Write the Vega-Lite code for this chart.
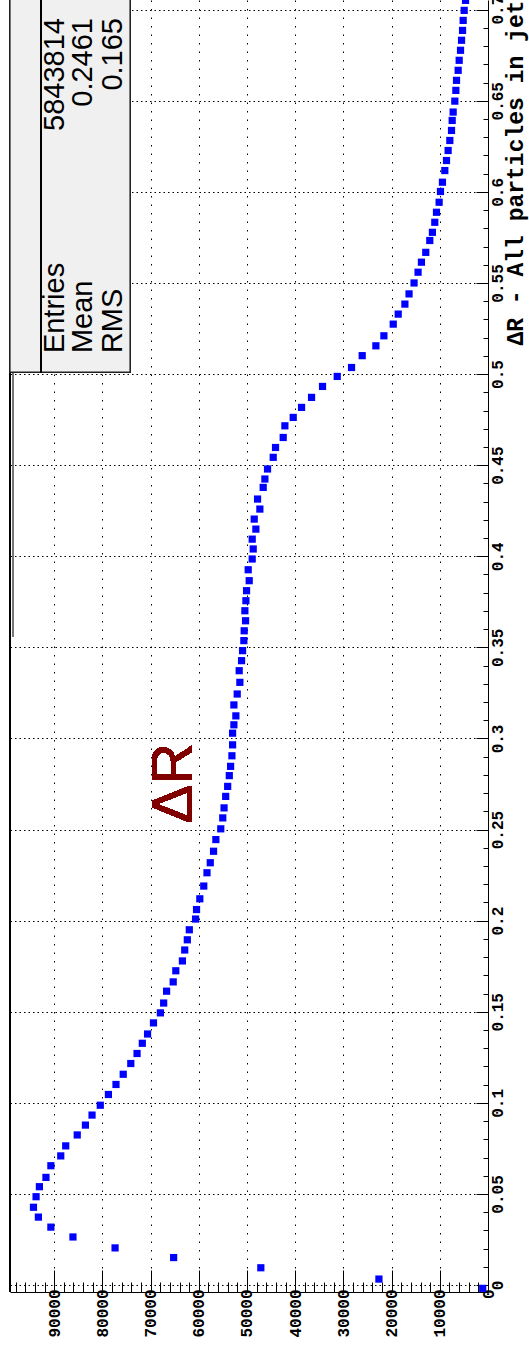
{
  "$schema": "https://vega.github.io/schema/vega-lite/v6.json",
  "width": 478,
  "height": 1292,
  "autosize": {"type": "none"},
  "padding": {"left": 10, "top": 0, "right": 41, "bottom": 80},
  "background": "white",
  "config": {
    "view": {"stroke": null},
    "axis": {
      "labelFont": "Liberation Mono",
      "labelFontWeight": "bold",
      "labelFontSize": 16,
      "labelColor": "black",
      "domainColor": "black",
      "tickColor": "black",
      "gridColor": "black",
      "gridWidth": 1
    }
  },
  "data": {
    "values": [
      {"dR": -0.0018, "n": 1100},
      {"dR": 0.0033, "n": 22630},
      {"dR": 0.0095, "n": 47130},
      {"dR": 0.0151, "n": 65220},
      {"dR": 0.0204, "n": 77370},
      {"dR": 0.0264, "n": 86110},
      {"dR": 0.0318, "n": 90690},
      {"dR": 0.0373, "n": 93280},
      {"dR": 0.0427, "n": 94300},
      {"dR": 0.0485, "n": 93760},
      {"dR": 0.054, "n": 93070},
      {"dR": 0.0591, "n": 91710},
      {"dR": 0.0655, "n": 90690},
      {"dR": 0.0709, "n": 88640},
      {"dR": 0.0764, "n": 87610},
      {"dR": 0.0824, "n": 85220},
      {"dR": 0.0878, "n": 83520},
      {"dR": 0.0933, "n": 82150},
      {"dR": 0.0987, "n": 80440},
      {"dR": 0.1046, "n": 78750},
      {"dR": 0.1101, "n": 77180},
      {"dR": 0.1157, "n": 75680},
      {"dR": 0.1216, "n": 74110},
      {"dR": 0.1271, "n": 72810},
      {"dR": 0.1327, "n": 71720},
      {"dR": 0.1378, "n": 70630},
      {"dR": 0.1439, "n": 69400},
      {"dR": 0.1494, "n": 67970},
      {"dR": 0.1548, "n": 67290},
      {"dR": 0.1613, "n": 66680},
      {"dR": 0.1664, "n": 65310},
      {"dR": 0.1725, "n": 64770},
      {"dR": 0.1779, "n": 63400},
      {"dR": 0.1839, "n": 62920},
      {"dR": 0.1895, "n": 62380},
      {"dR": 0.195, "n": 61970},
      {"dR": 0.2009, "n": 60670},
      {"dR": 0.2061, "n": 60470},
      {"dR": 0.212, "n": 59790},
      {"dR": 0.219, "n": 58970},
      {"dR": 0.2263, "n": 58300},
      {"dR": 0.2318, "n": 57620},
      {"dR": 0.2381, "n": 56940},
      {"dR": 0.2445, "n": 56460},
      {"dR": 0.2504, "n": 55440},
      {"dR": 0.2564, "n": 55030},
      {"dR": 0.2619, "n": 54760},
      {"dR": 0.2682, "n": 54420},
      {"dR": 0.2737, "n": 54010},
      {"dR": 0.2796, "n": 53670},
      {"dR": 0.2847, "n": 53400},
      {"dR": 0.2905, "n": 53130},
      {"dR": 0.2965, "n": 52990},
      {"dR": 0.3029, "n": 52990},
      {"dR": 0.3075, "n": 52720},
      {"dR": 0.3124, "n": 52310},
      {"dR": 0.3184, "n": 52720},
      {"dR": 0.3244, "n": 52030},
      {"dR": 0.3308, "n": 51480},
      {"dR": 0.3372, "n": 51620},
      {"dR": 0.3427, "n": 51130},
      {"dR": 0.3482, "n": 50920},
      {"dR": 0.3537, "n": 50650},
      {"dR": 0.3591, "n": 50580},
      {"dR": 0.3646, "n": 50300},
      {"dR": 0.3701, "n": 50440},
      {"dR": 0.3756, "n": 50230},
      {"dR": 0.3811, "n": 50090},
      {"dR": 0.3866, "n": 49540},
      {"dR": 0.3926, "n": 49750},
      {"dR": 0.3985, "n": 48920},
      {"dR": 0.404, "n": 48710},
      {"dR": 0.4094, "n": 48920},
      {"dR": 0.4149, "n": 48160},
      {"dR": 0.4204, "n": 48500},
      {"dR": 0.4259, "n": 47330},
      {"dR": 0.4314, "n": 47810},
      {"dR": 0.4378, "n": 46640},
      {"dR": 0.4424, "n": 46290},
      {"dR": 0.4479, "n": 45740},
      {"dR": 0.4543, "n": 44560},
      {"dR": 0.4597, "n": 44080},
      {"dR": 0.4652, "n": 42490},
      {"dR": 0.4716, "n": 42140},
      {"dR": 0.4762, "n": 40410},
      {"dR": 0.4817, "n": 38680},
      {"dR": 0.4872, "n": 36610},
      {"dR": 0.4932, "n": 34330},
      {"dR": 0.4987, "n": 31280},
      {"dR": 0.5036, "n": 28310},
      {"dR": 0.5101, "n": 26100},
      {"dR": 0.5155, "n": 23260},
      {"dR": 0.521, "n": 21600},
      {"dR": 0.5274, "n": 19660},
      {"dR": 0.5329, "n": 18630},
      {"dR": 0.5384, "n": 17240},
      {"dR": 0.544, "n": 16380},
      {"dR": 0.55, "n": 15340},
      {"dR": 0.5559, "n": 14510},
      {"dR": 0.5614, "n": 13810},
      {"dR": 0.5668, "n": 12910},
      {"dR": 0.5733, "n": 12080},
      {"dR": 0.5778, "n": 11530},
      {"dR": 0.5833, "n": 11040},
      {"dR": 0.5888, "n": 10690},
      {"dR": 0.5943, "n": 10140},
      {"dR": 0.6002, "n": 9860},
      {"dR": 0.6053, "n": 9450},
      {"dR": 0.6117, "n": 8960},
      {"dR": 0.6172, "n": 8610},
      {"dR": 0.6227, "n": 8270},
      {"dR": 0.6282, "n": 7920},
      {"dR": 0.6337, "n": 7570},
      {"dR": 0.6392, "n": 7430},
      {"dR": 0.6438, "n": 7230},
      {"dR": 0.6498, "n": 6880},
      {"dR": 0.6557, "n": 6670},
      {"dR": 0.6612, "n": 6530},
      {"dR": 0.6667, "n": 6190},
      {"dR": 0.6722, "n": 5980},
      {"dR": 0.6777, "n": 5700},
      {"dR": 0.6832, "n": 5490},
      {"dR": 0.6886, "n": 5280},
      {"dR": 0.6941, "n": 5150},
      {"dR": 0.6996, "n": 4940},
      {"dR": 0.7051, "n": 4660}
    ]
  },
  "layer": [
    {
      "mark": {"type": "rule", "color": "#777777", "strokeWidth": 1},
      "encoding": {
        "x": {"datum": 98600, "type": "quantitative"},
        "y": {"datum": 0.3557, "type": "quantitative"},
        "y2": {"datum": 0.72}
      }
    },
    {
      "mark": {"type": "point", "shape": "square", "filled": true, "color": "#0000ff", "opacity": 1, "size": 52},
      "encoding": {
        "x": {
          "field": "n",
          "type": "quantitative",
          "scale": {"domain": [0, 99170], "reverse": true, "nice": false, "zero": false},
          "axis": {
            "orient": "bottom",
            "title": null,
            "values": [0, 2000, 4000, 6000, 8000, 10000, 12000, 14000, 16000, 18000, 20000, 22000, 24000, 26000, 28000, 30000, 32000, 34000, 36000, 38000, 40000, 42000, 44000, 46000, 48000, 50000, 52000, 54000, 56000, 58000, 60000, 62000, 64000, 66000, 68000, 70000, 72000, 74000, 76000, 78000, 80000, 82000, 84000, 86000, 88000, 90000, 92000, 94000, 96000, 98000],
            "tickCount": 1000,
            "labelExpr": "datum.value % 10000 === 0 ? toString(datum.value) : ''",
            "labelAngle": 270,
            "labelPadding": 19,
            "labelOverlap": false,
            "labelFlush": false,
            "tickSize": {"condition": {"test": "datum.value % 10000 === 0", "value": -22}, "value": -10},
            "tickWidth": 1,
            "grid": true,
            "gridDash": [1.5, 7],
            "gridOpacity": {"condition": {"test": "datum.value % 10000 === 0 && datum.value > 0", "value": 1}, "value": 0}
          }
        },
        "y": {
          "field": "dR",
          "type": "quantitative",
          "scale": {"domain": [-0.0038, 0.7053], "nice": false, "zero": false},
          "axis": {
            "orient": "right",
            "title": "ΔR - All particles in jet",
            "titleFont": "Liberation Mono",
            "titleFontWeight": "bold",
            "titleFontSize": 23,
            "titleColor": "black",
            "titleAngle": 270,
            "titleAnchor": "end",
            "titlePadding": 15,
            "values": [0, 0.01, 0.02, 0.03, 0.04, 0.05, 0.06, 0.07, 0.08, 0.09, 0.1, 0.11, 0.12, 0.13, 0.14, 0.15, 0.16, 0.17, 0.18, 0.19, 0.2, 0.21, 0.22, 0.23, 0.24, 0.25, 0.26, 0.27, 0.28, 0.29, 0.3, 0.31, 0.32, 0.33, 0.34, 0.35, 0.36, 0.37, 0.38, 0.39, 0.4, 0.41, 0.42, 0.43, 0.44, 0.45, 0.46, 0.47, 0.48, 0.49, 0.5, 0.51, 0.52, 0.53, 0.54, 0.55, 0.56, 0.57, 0.58, 0.59, 0.6, 0.61, 0.62, 0.63, 0.64, 0.65, 0.66, 0.67, 0.68, 0.69, 0.7],
            "tickCount": 1000,
            "labelExpr": "abs(datum.value * 20 - round(datum.value * 20)) < 0.000001 ? toString(round(datum.value * 100) / 100) : ''",
            "labelAngle": 270,
            "labelPadding": 13,
            "labelOverlap": false,
            "labelFlush": false,
            "tickSize": {"condition": {"test": "abs(datum.value * 20 - round(datum.value * 20)) < 0.000001", "value": -12}, "value": -5},
            "tickWidth": 1,
            "grid": true,
            "gridDash": [1.5, 3],
            "gridOpacity": {"condition": {"test": "abs(datum.value * 20 - round(datum.value * 20)) < 0.000001", "value": 1}, "value": 0}
          }
        }
      }
    },
    {
      "mark": {"type": "rule", "color": "black", "strokeWidth": 1.5},
      "encoding": {"x": {"datum": 99170, "type": "quantitative"}}
    },
    {
      "mark": {"type": "rect", "fill": "#f0f0f0", "stroke": "#222222", "strokeWidth": 1.2},
      "encoding": {
        "x": {"datum": 99170, "type": "quantitative"},
        "x2": {"datum": 74270},
        "y": {"datum": 0.5011, "type": "quantitative"},
        "y2": {"datum": 0.72}
      }
    },
    {
      "mark": {"type": "rule", "color": "black", "strokeWidth": 1},
      "encoding": {
        "x": {"datum": 92740, "type": "quantitative"},
        "y": {"datum": 0.5011, "type": "quantitative"},
        "y2": {"datum": 0.72}
      }
    },
    {
      "data": {"values": [
        {"key": "Entries", "val": "5843814", "n": 89830},
        {"key": "Mean", "val": "0.2461", "n": 84020},
        {"key": "RMS", "val": "0.165", "n": 77800}
      ]},
      "layer": [
        {
          "mark": {"type": "text", "font": "Liberation Sans", "fontSize": 29, "angle": 270, "align": "left", "baseline": "middle", "color": "black"},
          "encoding": {
            "x": {"field": "n", "type": "quantitative"},
            "y": {"datum": 0.5115, "type": "quantitative"},
            "text": {"field": "key"}
          }
        },
        {
          "mark": {"type": "text", "font": "Liberation Sans", "fontSize": 29, "angle": 270, "align": "right", "baseline": "middle", "color": "black"},
          "encoding": {
            "x": {"field": "n", "type": "quantitative"},
            "y": {"datum": 0.6954, "type": "quantitative"},
            "text": {"field": "val"}
          }
        }
      ]
    },
    {
      "mark": {"type": "text", "font": "Liberation Sans", "fontSize": 58, "angle": 270, "align": "center", "baseline": "middle", "color": "#800000"},
      "encoding": {
        "x": {"datum": 64940, "type": "quantitative"},
        "y": {"datum": 0.2755, "type": "quantitative"},
        "text": {"value": "ΔR"}
      }
    }
  ]
}
